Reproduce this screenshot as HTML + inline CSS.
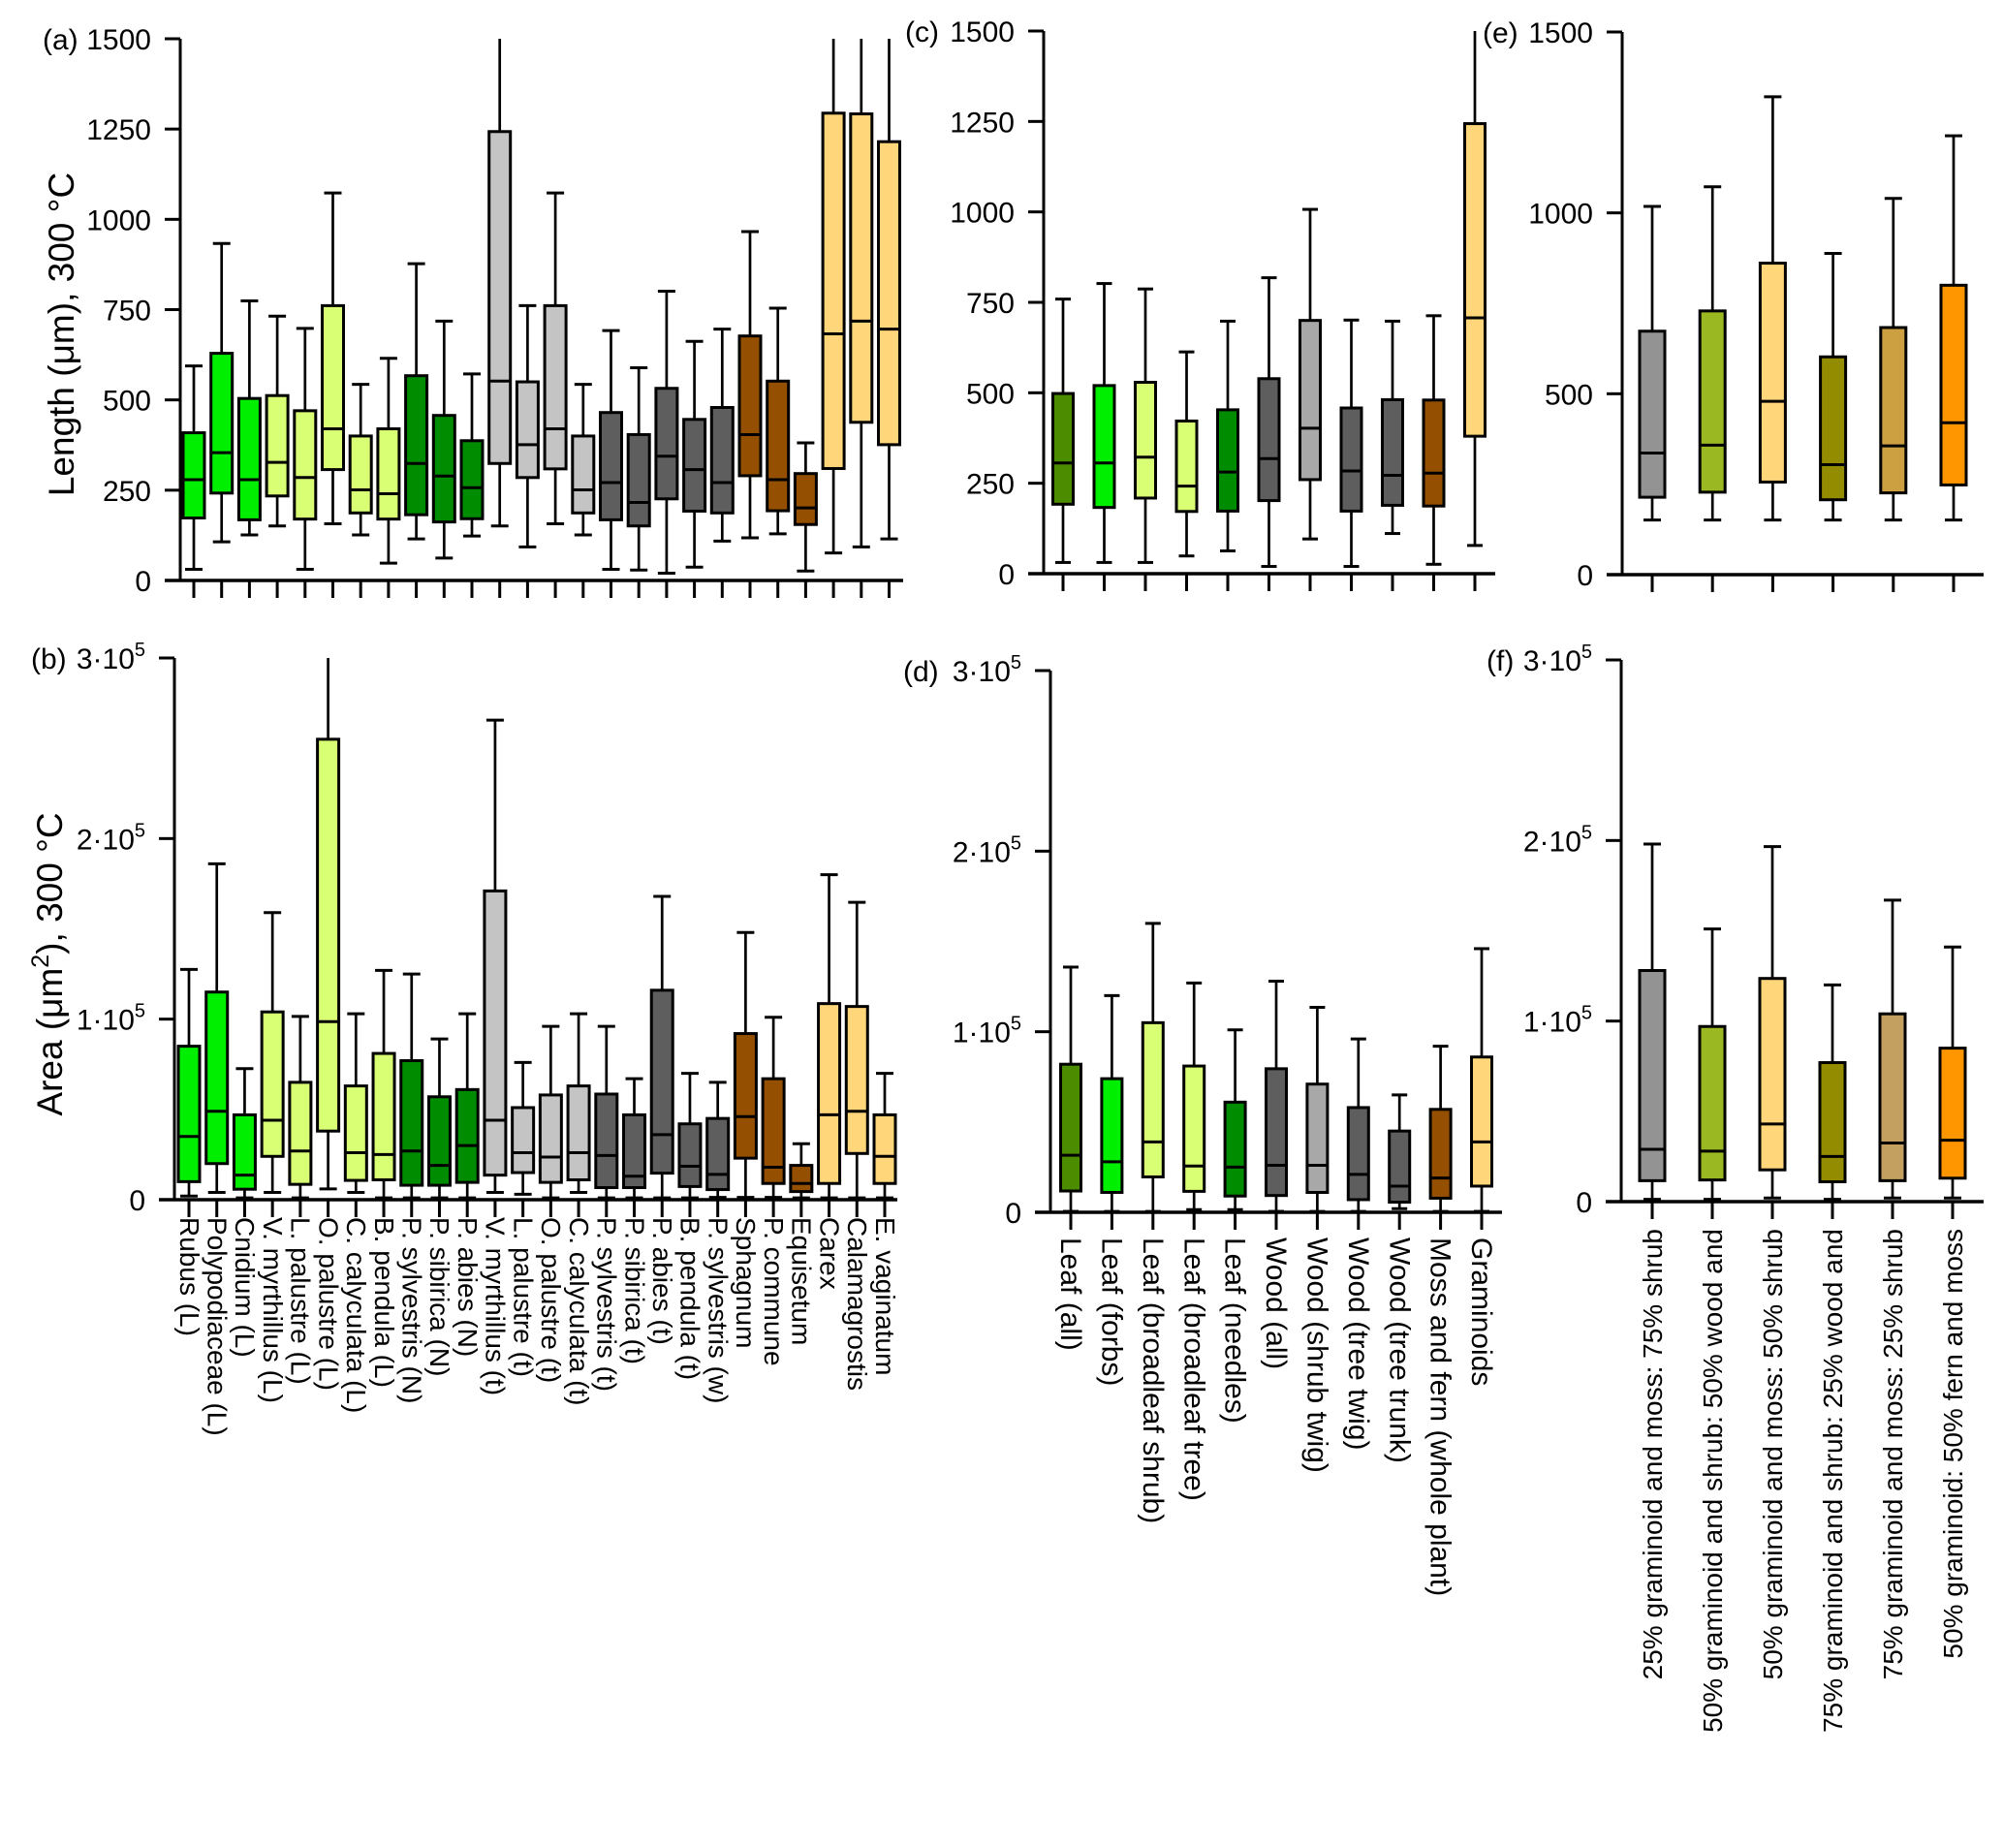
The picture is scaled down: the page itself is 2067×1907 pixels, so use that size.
<!DOCTYPE html>
<html><head><meta charset="utf-8"><style>
html,body{margin:0;padding:0;background:#fff;}
svg{display:block;font-family:"Liberation Sans",Arial,sans-serif;}
</style></head><body>
<svg id="fig" width="2067" height="1907" viewBox="0 0 2067 1907" xmlns="http://www.w3.org/2000/svg">
<rect width="2067" height="1907" fill="#fff"/>
<text transform="translate(76,345) rotate(-90)" text-anchor="middle" font-size="37">Length (μm),  300 °C</text>
<text transform="translate(64,995) rotate(-90)" text-anchor="middle" font-size="37">Area (μm<tspan baseline-shift="super" font-size="25">2</tspan>), 300 °C</text>
<text x="44" y="51" font-size="30">(a)</text>
<text x="32" y="690" font-size="30">(b)</text>
<text x="934" y="43" font-size="30">(c)</text>
<text x="932" y="703" font-size="30">(d)</text>
<text x="1530" y="44" font-size="30">(e)</text>
<text x="1534" y="692" font-size="30">(f)</text>
</svg>
<script>
// ---- Panel A/B categories ----
const catsAB = ["Rubus (L)","Polypodiaceae (L)","Cnidium (L)","V. myrthillus  (L)","L. palustre (L)","O. palustre (L)","C. calyculata (L)","B. pendula (L)","P. sylvestris (N)","P. sibirica (N)","P. abies (N)","V. myrthillus  (t)","L. palustre (t)","O. palustre (t)","C. calyculata (t)","P. sylvestris (t)","P. sibirica (t)","P. abies  (t)","B. pendula (t)","P. sylvestris (w)","Sphagnum","P. commune","Equisetum","Carex","Calamagrostis","E. vaginatum"];
const colorsAB = ["#00ee00","#00ee00","#00ee00","#d9ff75","#d9ff75","#d9ff75","#d9ff75","#d9ff75","#008c00","#008c00","#008c00","#c4c4c4","#c4c4c4","#c4c4c4","#c4c4c4","#5e5e5e","#5e5e5e","#5e5e5e","#5e5e5e","#5e5e5e","#954f00","#954f00","#954f00","#ffd67a","#ffd67a","#ffd67a"];
// Panel A: length (µm)
const aLo  = [31,107,126,151,31,157,126,48,115,62,123,151,93,157,126,31,29,20,37,109,118,129,26,76,93,115];
const aQ1  = [173,242,168,234,170,307,187,170,182,162,171,324,285,309,187,168,151,226,192,187,290,193,155,310,438,376];
const aMed = [279,354,279,327,285,420,251,240,324,289,257,552,376,420,251,271,216,344,307,271,404,279,201,683,718,696];
const aQ3  = [409,629,504,512,470,761,400,420,567,457,387,1243,550,761,400,465,404,532,446,479,677,552,296,1294,1292,1215];
const aHi  = [594,933,774,732,698,1073,543,615,877,718,572,1500,761,1073,543,692,589,801,662,696,966,754,381,1500,1500,1500];
// Panel B: area (thousand µm²)
const bLo  = [2,4,1,4,1,6,4,1,1,1,1,4,3,1,4,1,1,1,1,1.3,1.3,1.3,1,1,1,1];
const bQ1  = [10,20,5.8,24,8.5,38,10.7,11,8,8,9.6,13.6,15,9.6,11,6.7,6.7,14.7,7.3,5.6,23,9,4.5,9,25.6,9];
const bMed = [35,49,13.6,44,27,98.6,26,25,27,19,30,44,26,23.6,26,24.5,13,36,18.5,14,46,18,9,47,49,24];
const bQ3  = [85,115,47,104,65,255,63,81,77,57,61,171,51,58,63,58.5,47,116,42,45,92,67,19,108.6,107,47];
const bHi  = [127.5,186,72.6,159,101.5,300,103,127,125,89,103,265.6,76,96,103,96,67,168,70,65,148,101,31,180,164.7,70];
// ---- Panel C/D ----
const catsCD = ["Leaf (all)","Leaf (forbs)","Leaf (broadleaf shrub)","Leaf (broadleaf tree)","Leaf  (needles)","Wood (all)","Wood (shrub twig)","Wood (tree twig)","Wood (tree trunk)","Moss and fern (whole plant)","Graminoids"];
const colorsCD = ["#4c8c00","#00ee00","#d9ff75","#d9ff75","#008c00","#5e5e5e","#a8a8a8","#5e5e5e","#5e5e5e","#954f00","#ffd67a"];
const cLo  = [31,31,31,49,63,20,96,20,111,26,78];
const cQ1  = [192,183,209,172,173,202,260,173,189,187,380];
const cMed = [306,306,322,242,281,318,402,284,272,278,707];
const cQ3  = [498,520,529,422,453,539,700,458,481,480,1244];
const cHi  = [759,802,787,613,698,818,1007,701,698,713,1500];
const dLo  = [0.5,0.5,0.5,1.5,1.5,0.5,0.5,0.5,2,0.5,0.5];
const dQ1  = [11.8,11,19.6,11.6,9,9.3,11,7,5.6,7.8,14.5];
const dMed = [31.6,28,39,25.6,25,26,26,21,14.5,19,39];
const dQ3  = [82,74,105,81,61,79.5,71,58,45,57,86];
const dHi  = [135.8,120,160,127,101,128,113.5,96,65,92,146];
// ---- Panel E/F ----
const catsEF = ["25% graminoid and moss: 75% shrub","50% graminoid and shrub: 50% wood and","50% graminoid and moss: 50% shrub","75% graminoid and shrub: 25% wood and","75% graminoid and moss:  25% shrub","50% graminoid: 50% fern and moss"];
const colorsE = ["#939393","#99b822","#ffd67a","#948c00","#cc9f40","#ff9600"];
const colorsF = ["#939393","#99b822","#ffd67a","#948c00","#c4a060","#ff9600"];
const eLo  = [151,151,151,151,151,151];
const eQ1  = [214,228,256,207,226,248];
const eMed = [336,358,479,304,356,420];
const eQ3  = [673,729,861,602,683,800];
const eHi  = [1018,1072,1321,888,1040,1213];
const fLo  = [1.3,1.3,2,1.3,2,2];
const fQ1  = [11.6,12,17.6,11,11.6,13];
const fMed = [29,28,43,25,32.5,34];
const fQ3  = [128,97,123.6,77,104,85];
const fHi  = [198,151,196.6,120,167,141];
const ticksLen = [0,250,500,750,1000,1250,1500];
const ticksLenE = [0,500,1000,1500];
const ticksArea = [0,100,200,300];

const NS="http://www.w3.org/2000/svg";
const svg=document.getElementById('fig');
function mk(tag,attrs,parent){const e=document.createElementNS(NS,tag);for(const k in attrs)e.setAttribute(k,attrs[k]);(parent||svg).appendChild(e);return e;}

function panel(p){
  const g=mk('g',{});
  
  
  const yS=v=>p.y0-(v/p.max)*(p.y0-p.yTop);
  const xS=i=>p.first+i*p.step;
  const ya=mk('line',{x1:p.ax,y1:p.yTop,x2:p.ax,y2:p.y0,stroke:'#000','stroke-width':3},g);
  
  
  const xa=mk('line',{x1:p.ax-16,y1:p.y0,x2:p.xEnd,y2:p.y0,stroke:'#000','stroke-width':3.5},g);
  
  
  p.ticks.forEach(t=>{
    const y=yS(t);
    mk('line',{x1:p.ax-16,y1:y,x2:p.ax,y2:y,stroke:'#000','stroke-width':3},g);
    const tx=mk('text',{x:p.ax-30,y:y+11,'text-anchor':'end','font-size':30},g);
    
    
    if(p.area && t>0){
      tx.appendChild(document.createTextNode((t/100)+'·10'));
      const s=mk('tspan',{'font-size':20,dy:-13},tx); s.textContent='5';
    } else tx.textContent=String(t);
  });
  const n=p.med.length;
  for(let i=0;i<n;i++){
    const x=xS(i);
    mk('line',{x1:x,y1:p.y0,x2:x,y2:p.y0+18,stroke:'#000','stroke-width':3},g);
    const bg=mk('g',{},g);
    
    
    const hw=p.bw/2, cw=p.cw/2;
    mk('line',{x1:x,y1:yS(p.hi[i]),x2:x,y2:yS(p.q3[i]),stroke:'#000','stroke-width':2.7},bg);
    mk('line',{x1:x,y1:yS(p.lo[i]),x2:x,y2:yS(p.q1[i]),stroke:'#000','stroke-width':2.7},bg);
    if(p.hi[i]<p.max) mk('line',{x1:x-cw,y1:yS(p.hi[i]),x2:x+cw,y2:yS(p.hi[i]),stroke:'#000','stroke-width':3},bg);
    mk('line',{x1:x-cw,y1:yS(p.lo[i]),x2:x+cw,y2:yS(p.lo[i]),stroke:'#000','stroke-width':3},bg);
    mk('rect',{x:x-hw,y:yS(p.q3[i]),width:p.bw,height:yS(p.q1[i])-yS(p.q3[i]),fill:p.colors[i],stroke:'#000','stroke-width':3},bg);
    mk('line',{x1:x-hw,y1:yS(p.med[i]),x2:x+hw,y2:yS(p.med[i]),stroke:'#000','stroke-width':3},bg);
    if(p.labels){
      let t;
      if(p.labelDir>0){
        t=mk('text',{transform:`translate(${x-p.fs*0.33},${p.labY}) rotate(90)`,'font-size':p.fs},g);
      } else {
        t=mk('text',{transform:`translate(${x+10},${p.labY}) rotate(-90)`,'text-anchor':'end','font-size':p.fs},g);
      }
      
      
      t.textContent=p.labels[i];
    }
  }
}
panel({id:'a',ax:186,xEnd:932,yTop:40,y0:599,max:1500,first:200,step:28.7,bw:22,cw:18,ticks:ticksLen,lo:aLo,q1:aQ1,med:aMed,q3:aQ3,hi:aHi,colors:colorsAB});
panel({id:'b',ax:180,xEnd:926,yTop:679,y0:1238,max:300,first:195,step:28.72,bw:22,cw:18,ticks:ticksArea,area:true,lo:bLo,q1:bQ1,med:bMed,q3:bQ3,hi:bHi,colors:colorsAB,labels:catsAB,labelDir:1,labY:1256,fs:28});
panel({id:'c',ax:1077,xEnd:1543,yTop:32,y0:592,max:1500,first:1097,step:42.5,bw:21,cw:16,ticks:ticksLen,lo:cLo,q1:cQ1,med:cMed,q3:cQ3,hi:cHi,colors:colorsCD});
panel({id:'d',ax:1084,xEnd:1550,yTop:692,y0:1251,max:300,first:1105,step:42.4,bw:21,cw:16,ticks:ticksArea,area:true,lo:dLo,q1:dQ1,med:dMed,q3:dQ3,hi:dHi,colors:colorsCD,labels:catsCD,labelDir:1,labY:1277,fs:30});
panel({id:'e',ax:1674,xEnd:2047,yTop:33,y0:593,max:1500,first:1705,step:62.2,bw:26,cw:18,ticks:ticksLenE,lo:eLo,q1:eQ1,med:eMed,q3:eQ3,hi:eHi,colors:colorsE});
panel({id:'f',ax:1673,xEnd:2047,yTop:681,y0:1240,max:300,first:1705,step:62,bw:26,cw:18,ticks:ticksArea,area:true,lo:fLo,q1:fQ1,med:fMed,q3:fQ3,hi:fHi,colors:colorsF,labels:catsEF,labelDir:-1,labY:1268,fs:28});
</script>
</body></html>
